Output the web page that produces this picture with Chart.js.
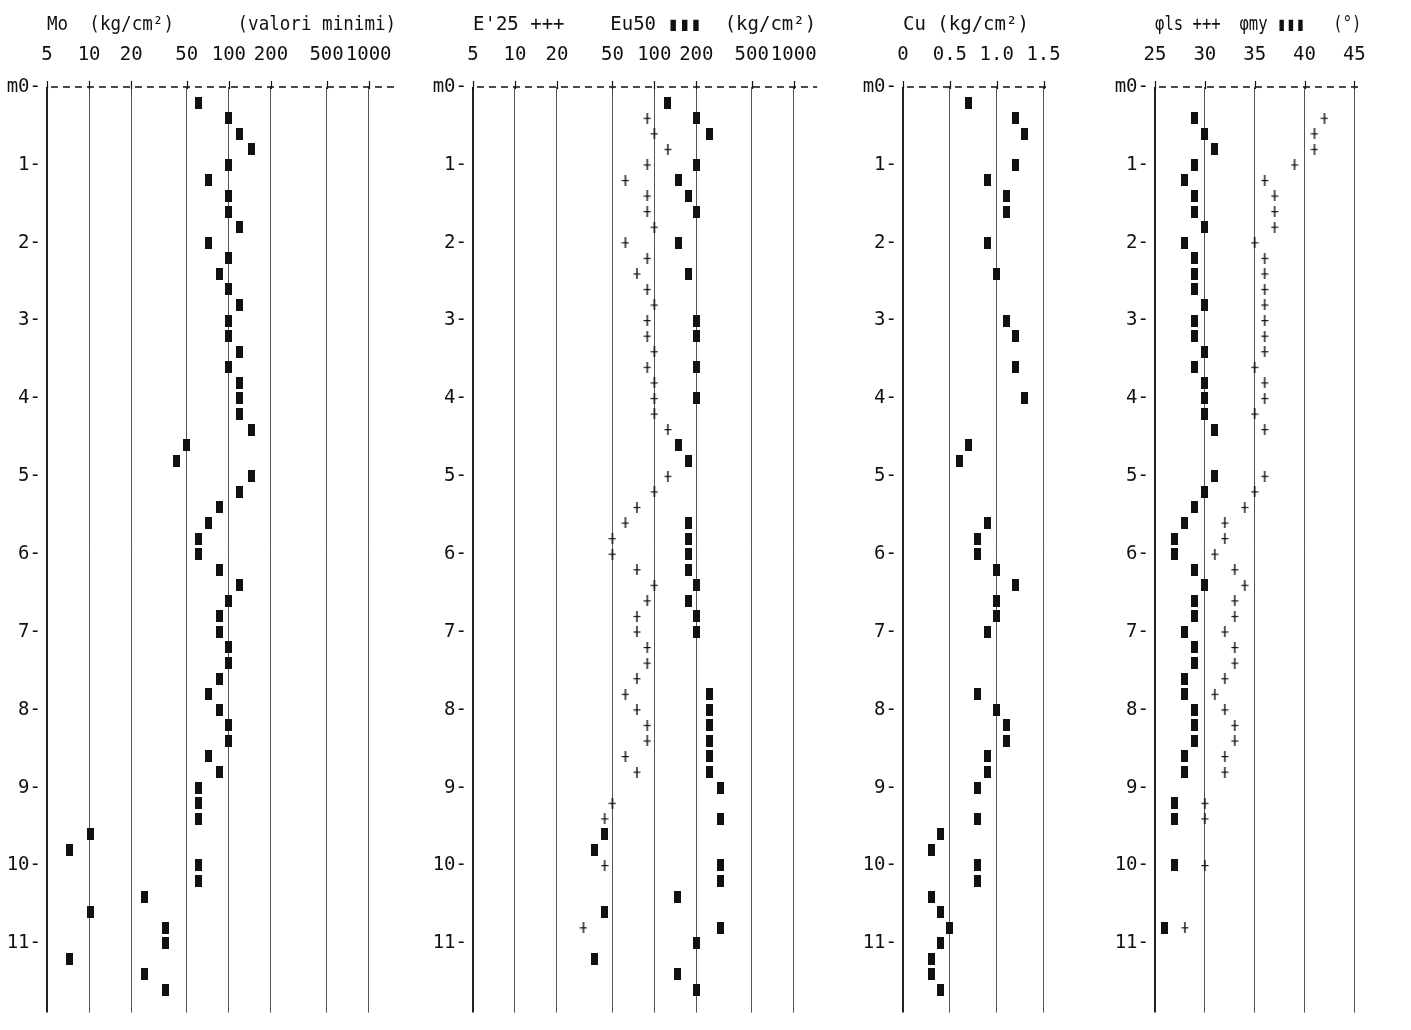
<!DOCTYPE html>
<html>
<head>
<meta charset="utf-8">
<script src="https://cdn.jsdelivr.net/npm/chart.js@4/dist/chart.umd.min.js"></script>
<style>
  body { margin: 0; background: #fff; }
  canvas { position: absolute; top: 0; }
</style>
</head>
<body>
<canvas id="c1" width="413" height="1030" style="left:0px"></canvas>
<canvas id="c2" width="418" height="1030" style="left:420px"></canvas>
<canvas id="c3" width="232" height="1030" style="left:850px"></canvas>
<canvas id="c4" width="297" height="1030" style="left:1090px"></canvas>
<script>
// depths (m) of the samples
var moDepth = [0.2,0.4,0.6,0.8,1.0,1.2,1.4,1.6,1.8,2.0,2.2,2.4,2.6,2.8,3.0,3.2,3.4,3.6,3.8,4.0,4.2,4.4,4.6,4.8,5.0,5.2,5.4,5.6,5.8,6.0,6.2,6.4,6.6,6.8,7.0,7.2,7.4,7.6,7.8,8.0,8.2,8.4,8.6,8.8,9.0,9.2,9.4,9.6,9.8,10.0,10.2,10.4,10.6,10.8,11.0,11.2,11.4,11.6];
var depthA = [0.2,0.4,0.6,1.0,1.2,1.4,1.6,2.0,2.4,3.0,3.2,3.6,4.0,4.6,4.8,5.6,5.8,6.0,6.2,6.4,6.6,6.8,7.0,7.8,8.0,8.2,8.4,8.6,8.8,9.0,9.4,9.6,9.8,10.0,10.2,10.4,10.6,10.8,11.0,11.2,11.4,11.6];
var depthB = [0.4,0.6,0.8,1.0,1.2,1.4,1.6,1.8,2.0,2.2,2.4,2.6,2.8,3.0,3.2,3.4,3.6,3.8,4.0,4.2,4.4,5.0,5.2,5.4,5.6,5.8,6.0,6.2,6.4,6.6,6.8,7.0,7.2,7.4,7.6,7.8,8.0,8.2,8.4,8.6,8.8,9.2,9.4,10.0,10.8];

// values
var moValues = [61,100,120,145,100,72,100,100,120,72,100,86,100,120,100,100,120,100,120,120,120,145,50,42,145,120,86,72,61,61,86,120,100,86,86,100,100,86,72,86,100,100,72,86,61,61,61,10.3,7.2,61,61,25,10.3,35,35,7.2,25,35];
var eu50Values = [124,200,249,200,149,177,200,149,177,200,200,200,200,149,177,177,177,177,177,200,177,200,200,249,249,249,249,249,249,296,296,44,37,296,296,147,44,296,200,37,147,200];
var e25Values = [89,100,125,89,62,89,89,100,62,89,75,89,100,89,89,100,89,100,100,100,125,125,100,75,62,50,50,75,100,89,75,75,89,89,75,62,75,89,89,62,75,50,44,44,31];
var cuValues = [0.7,1.2,1.3,1.2,0.9,1.1,1.1,0.9,1.0,1.1,1.2,1.2,1.3,0.7,0.6,0.9,0.8,0.8,1.0,1.2,1.0,1.0,0.9,0.8,1.0,1.1,1.1,0.9,0.9,0.8,0.8,0.4,0.3,0.8,0.8,0.3,0.4,0.5,0.4,0.3,0.3,0.4];
var phiMyValues = [29,30,31,29,28,29,29,30,28,29,29,29,30,29,29,30,29,30,30,30,31,31,30,29,28,27,27,29,30,29,29,28,29,29,28,28,29,29,29,28,28,27,27,27,26];
var phiLsValues = [42,41,41,39,36,37,37,37,35,36,36,36,36,36,36,36,35,36,36,35,36,36,35,34,32,32,31,33,34,33,33,32,33,33,32,31,32,33,33,32,32,30,30,30,28];

// tick labels
var logTicks = [5,10,20,50,100,200,500,1000];
var cuTicks = [0,0.5,1.0,1.5];
var phiTicks = [25,30,35,40,45];
var depthTicks = [0,1,2,3,4,5,6,7,8,9,10,11];

var FONT = { family: "'DejaVu Sans Mono', monospace", size: 19 };
var INK = '#111';

// printer-like markers
function blockMark() {
  var c = document.createElement('canvas');
  c.width = 7; c.height = 12;
  var g = c.getContext('2d');
  g.fillStyle = INK;
  g.fillRect(0, 0, 7, 12);
  return c;
}
function plusMark() {
  var c = document.createElement('canvas');
  c.width = 8; c.height = 11;
  var g = c.getContext('2d');
  g.fillStyle = INK;
  g.fillRect(3.3, 0, 1.4, 11);
  g.fillRect(0.5, 5, 7, 1.2);
  return c;
}
var BLOCK = blockMark();
var PLUS = plusMark();

// dashed top row of the print-out, with the little stubs at each grid line
var topRow = {
  id: 'topRow',
  afterDraw: function (chart) {
    var a = chart.chartArea, g = chart.ctx, xs = chart.scales.x;
    g.save();
    g.strokeStyle = INK;
    g.lineWidth = 1.5;
    g.setLineDash([7, 5]);
    g.beginPath();
    g.moveTo(a.left + 4, a.top);
    g.lineTo(a.right, a.top);
    g.stroke();
    g.setLineDash([]);
    g.lineWidth = 1.2;
    g.beginPath();
    xs.ticks.forEach(function (t) {
      var px = Math.round(xs.getPixelForValue(t.value)) + 0.5;
      g.moveTo(px, a.top - 6);
      g.lineTo(px, a.top + 2);
    });
    g.stroke();
    g.restore();
  }
};

function pts(depths, vals) {
  return depths.map(function (d, i) { return { x: vals[i], y: d }; });
}

function makePanel(id, opt) {
  var xScale = {
    type: opt.log ? 'logarithmic' : 'linear',
    position: 'top',
    min: opt.min,
    max: opt.max,
    bounds: 'data',
    afterBuildTicks: function (s) { s.ticks = opt.ticks.map(function (v) { return { value: v }; }); },
    afterFit: function (s) { s.height = 87; },
    grid: {
      drawTicks: false,
      color: function (ctx) { return ctx.index === 0 ? '#222' : '#555'; },
      lineWidth: function (ctx) { return ctx.index === 0 ? 2 : 1; }
    },
    border: { display: false },
    ticks: {
      autoSkip: false, maxRotation: 0, minRotation: 0, padding: 21,
      color: INK, font: FONT,
      callback: opt.fmt
    },
    title: {
      display: true, text: opt.title, align: 'start',
      color: INK, font: FONT, padding: { top: 14, bottom: 0 }
    }
  };
  var yScale = {
    type: 'linear',
    reverse: true,
    min: 0,
    max: 11.89,
    bounds: 'data',
    afterBuildTicks: function (s) { s.ticks = depthTicks.map(function (v) { return { value: v }; }); },
    afterFit: function (s) { s.width = opt.yw; },
    grid: { display: false, drawTicks: false },
    border: { display: false },
    ticks: {
      autoSkip: false, padding: 6, color: INK, font: FONT,
      callback: function (v) { return v === 0 ? 'm0-' : v + '-'; }
    }
  };
  return new Chart(document.getElementById(id), {
    type: 'scatter',
    data: { datasets: opt.datasets },
    options: {
      responsive: false,
      animation: false,
      devicePixelRatio: 1,
      layout: { padding: 0 },
      plugins: { legend: { display: false }, tooltip: { enabled: false } },
      scales: { x: xScale, y: yScale }
    },
    plugins: [topRow]
  });
}

function series(depths, vals, mark) {
  return { data: pts(depths, vals), pointStyle: mark, pointRadius: 5, showLine: false };
}

makePanel('c1', {
  log: true, min: 5, max: 1574, yw: 47, ticks: logTicks,
  fmt: function (v) { return String(v); },
  title: 'Mo  (kg/cm²)      (valori minimi)',
  datasets: [series(moDepth, moValues, BLOCK)]
});

makePanel('c2', {
  log: true, min: 5, max: 1474, yw: 53, ticks: logTicks,
  fmt: function (v) { return String(v); },
  title: "E'25 +++    Eu50 ▮▮▮  (kg/cm²)",
  datasets: [series(depthB, e25Values, PLUS), series(depthA, eu50Values, BLOCK)]
});

makePanel('c3', {
  log: false, min: 0, max: 1.58, yw: 53, ticks: cuTicks,
  fmt: function (v) { return v === 0 ? '0' : v.toFixed(1); },
  title: 'Cu (kg/cm²)',
  datasets: [series(depthA, cuValues, BLOCK)]
});

makePanel('c4', {
  log: false, min: 25, max: 45.71, yw: 65, ticks: phiTicks,
  fmt: function (v) { return String(v); },
  title: 'φls +++  φmy ▮▮▮   (°)',
  datasets: [series(depthB, phiLsValues, PLUS), series(depthB, phiMyValues, BLOCK)]
});
</script>
</body>
</html>
